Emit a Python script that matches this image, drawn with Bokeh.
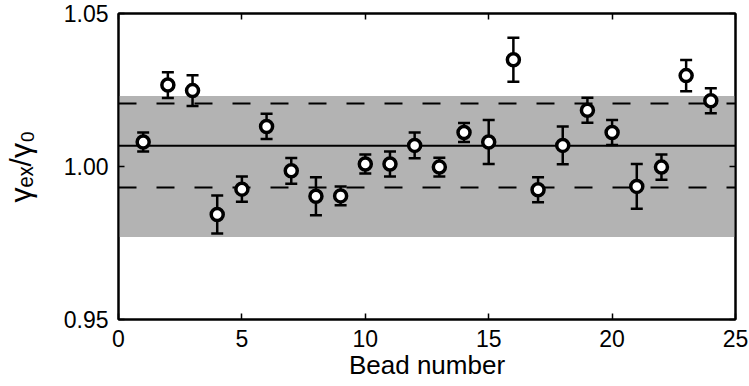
from bokeh.plotting import figure
from bokeh.models import (ColumnDataSource, Range1d, FixedTicker, LinearAxis, BoxAnnotation,
                          Span, Whisker, TeeHead, NumeralTickFormatter)
from bokeh.embed import file_html
from bokeh.resources import INLINE

# ---- data ----
bead = [1, 2, 3, 4, 5, 6, 7, 8, 9, 10, 11, 12, 13, 14, 15, 16, 17, 18, 19, 20, 21, 22, 23, 24]
ratio = [1.0080, 1.0266, 1.0248, 0.9843, 0.9926, 1.0131, 0.9986, 0.9903, 0.9904, 1.0008,
         1.0008, 1.0069, 0.9998, 1.0111, 1.0080, 1.0349, 0.9924, 1.0069, 1.0184, 1.0111,
         0.9935, 0.9998, 1.0297, 1.0215]
err = [0.0031, 0.0042, 0.0050, 0.0062, 0.0041, 0.0041, 0.0042, 0.0062, 0.0031, 0.0031,
       0.0041, 0.0042, 0.0031, 0.0031, 0.0072, 0.0072, 0.0041, 0.0062, 0.0041, 0.0041,
       0.0073, 0.0041, 0.0051, 0.0041]
mean_val = 1.0068
sd_hi = 1.0206
sd_lo = 0.9931
band_lo = 0.977
band_hi = 1.023
x_ticks = [0, 5, 10, 15, 20, 25]
y_ticks = [0.95, 1.00, 1.05]
y_label = "γₑₓ/γ₀"
x_label = "Bead number"

FONT = "Liberation Sans"

src = ColumnDataSource(dict(
    x=bead, y=ratio,
    upper=[v + e for v, e in zip(ratio, err)],
    lower=[v - e for v, e in zip(ratio, err)],
))

p = figure(width=749, height=386, output_backend="svg", toolbar_location=None,
           x_range=Range1d(0, 25), y_range=Range1d(0.95, 1.05),
           min_border_left=117, min_border_right=14, min_border_top=13, min_border_bottom=67)
p.background_fill_color = "white"
p.border_fill_color = "white"
p.grid.visible = False
p.outline_line_color = "black"
p.outline_line_width = 2
p.outline_line_alpha = 1

for ax in (p.xaxis[0], p.yaxis[0]):
    ax.axis_line_width = 2
    ax.major_tick_in = 6
    ax.major_tick_out = 0
    ax.major_tick_line_width = 1.5
    ax.minor_tick_line_color = None
    ax.major_label_text_font = FONT
    ax.major_label_text_font_size = "23px"
    ax.major_label_text_color = "black"
    ax.axis_label_text_font = FONT
    ax.axis_label_text_font_style = "normal"
    ax.axis_label_text_color = "black"

p.xaxis[0].ticker = FixedTicker(ticks=x_ticks)
p.yaxis[0].ticker = FixedTicker(ticks=y_ticks)
p.yaxis[0].formatter = NumeralTickFormatter(format="0.00")
p.xaxis[0].major_label_standoff = 10
p.yaxis[0].major_label_standoff = 10
p.xaxis[0].axis_label = x_label
p.xaxis[0].axis_label_text_font_size = "26px"
p.xaxis[0].axis_label_standoff = 0
p.yaxis[0].axis_label = y_label
p.yaxis[0].axis_label_text_font_size = "30px"
p.yaxis[0].axis_label_standoff = 24

for loc, ticks in (("above", x_ticks), ("right", y_ticks)):
    ax = LinearAxis(ticker=FixedTicker(ticks=ticks), major_tick_in=6, major_tick_out=0,
                    major_tick_line_width=1.5, minor_tick_line_color=None, axis_line_width=2,
                    major_label_text_font_size="1px", major_label_text_color=None,
                    major_label_standoff=0)
    p.add_layout(ax, loc)

band = BoxAnnotation(bottom=band_lo, top=band_hi, fill_color="#b3b3b3", fill_alpha=1,
                     line_color=None, level="image")
p.add_layout(band)
p.add_layout(Span(location=mean_val, dimension="width", line_color="black", line_width=2,
                  level="underlay"))
for loc in (sd_hi, sd_lo):
    p.add_layout(Span(location=loc, dimension="width", line_color="black", line_width=2,
                      line_dash="18 20", level="underlay"))

wh = Whisker(source=src, base="x", upper="upper", lower="lower", line_width=2.5,
             line_color="black",
             upper_head=TeeHead(size=12, line_width=2.5, line_color="black"),
             lower_head=TeeHead(size=12, line_width=2.5, line_color="black"),
             level="underlay")
p.add_layout(wh)

p.scatter("x", "y", source=src, size=12, fill_color="white", line_color="black",
          line_width=3.5, marker="circle")

open("out.html", "w").write(file_html(p, INLINE))
